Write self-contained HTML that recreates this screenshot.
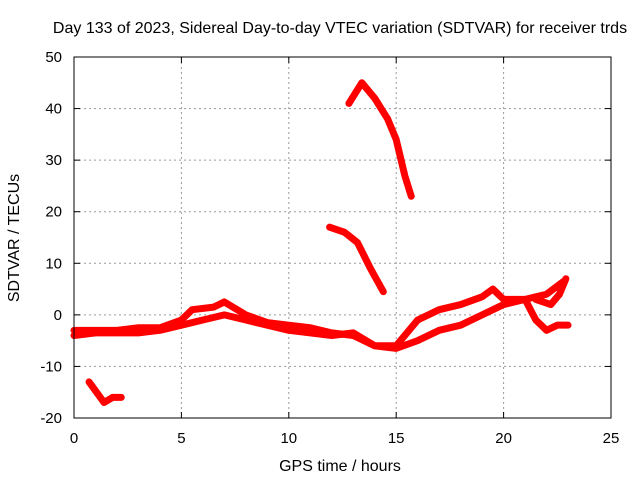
<!DOCTYPE html>
<html><head><meta charset="utf-8"><style>
body{margin:0;background:#fff}
svg{display:block;font-family:"Liberation Sans",sans-serif}
</style></head><body>
<svg id="c" width="640" height="480">
<text x="340" y="33" font-size="16" text-anchor="middle">Day 133 of 2023, Sidereal Day-to-day VTEC variation (SDTVAR) for receiver trds</text>
<text x="340" y="471" font-size="16" text-anchor="middle">GPS time / hours</text>
<text transform="translate(19,238) rotate(-90)" font-size="16" text-anchor="middle">SDTVAR / TECUs</text>
<g id="grid"></g><g id="series"></g>
<rect x="74" y="57" width="537" height="361" fill="none" stroke="#000"/>
</svg>
<script>
const xTicks=[0,5,10,15,20,25];
const yTicks=[-20,-10,0,10,20,30,40,50];
const seriesUpperT=[0,1,2,3,4,5,5.5,6.5,7,8,9,10,11,12,13,14,15,16,17,18,19,20,21,22,22.8];
const seriesUpperV=[-3,-3,-3,-2.5,-2.5,-1,1,1.5,2.5,0,-1.5,-2,-2.5,-3.5,-4,-6,-6.5,-5,-3,-2,0,2,3,4,6.5];
const seriesLowerT=[0,1,2,3,4,5,6,7,8,9,10,11,12,13,14,15,16,17,18,19,19.5,20,21,21.5,22,22.5,23];
const seriesLowerV=[-4,-3.5,-3.5,-3.5,-3,-2,-1,0,-1,-2,-3,-3.5,-4,-3.5,-6,-6,-1,1,2,3.5,5,3,3,-1,-3,-2,-2];
const seriesSideT=[21.5,22.2,22.6,22.9];
const seriesSideV=[3,2,4,7];
const arcTopT=[12.8,13.4,14,14.6,15,15.4,15.7];
const arcTopV=[41,45,42,38,34,27,23];
const arcMidT=[11.9,12.6,13.2,13.8,14.4];
const arcMidV=[17,16,14,9,4.5];
const arcLowT=[0.7,1.4,1.8,2.2];
const arcLowV=[-13,-17,-16,-16];
const X=t=>74+t*537/25, Y=v=>57+(50-v)*361/70;
const NS="http://www.w3.org/2000/svg";
const g=document.getElementById('grid'), s=document.getElementById('series');
function mk(tag,at,p){const e=document.createElementNS(NS,tag);for(const k in at)e.setAttribute(k,at[k]);p.appendChild(e);return e;}
xTicks.forEach(t=>{
 if(t>0&&t<25){const l=mk('line',{x1:X(t),x2:X(t),y1:57,y2:418,stroke:'#999','stroke-dasharray':'2,3'},g);
 
 }
 mk('line',{x1:X(t),x2:X(t),y1:418,y2:412,stroke:'#000'},g);
 mk('line',{x1:X(t),x2:X(t),y1:57,y2:63,stroke:'#000'},g);
 const tx=mk('text',{x:X(t),y:443,'font-size':15,'text-anchor':'middle'},g);tx.textContent=t;
 
 
});
yTicks.forEach(v=>{
 if(v>-20&&v<50){const l=mk('line',{x1:74,x2:611,y1:Y(v),y2:Y(v),stroke:'#999','stroke-dasharray':'2,3'},g);
 
 }
 mk('line',{x1:74,x2:80,y1:Y(v),y2:Y(v),stroke:'#000'},g);
 mk('line',{x1:611,x2:605,y1:Y(v),y2:Y(v),stroke:'#000'},g);
 const tx=mk('text',{x:62,y:Y(v)+5,'font-size':15,'text-anchor':'end'},g);tx.textContent=v;
 
 
});
function draw(T,V,name){
 const p=mk('polyline',{points:T.map((t,i)=>X(t)+','+Y(V[i])).join(' '),fill:'none',stroke:'#f00','stroke-width':7,'stroke-linejoin':'round','stroke-linecap':'round'},s);
 
 
}
draw(seriesUpperT,seriesUpperV,'series-main-upper');
draw(seriesLowerT,seriesLowerV,'series-main-lower');
draw(seriesSideT,seriesSideV,'series-side');
draw(arcTopT,arcTopV,'series-arc-top');
draw(arcMidT,arcMidV,'series-arc-mid');
draw(arcLowT,arcLowV,'series-arc-low');
</script>
</body></html>
